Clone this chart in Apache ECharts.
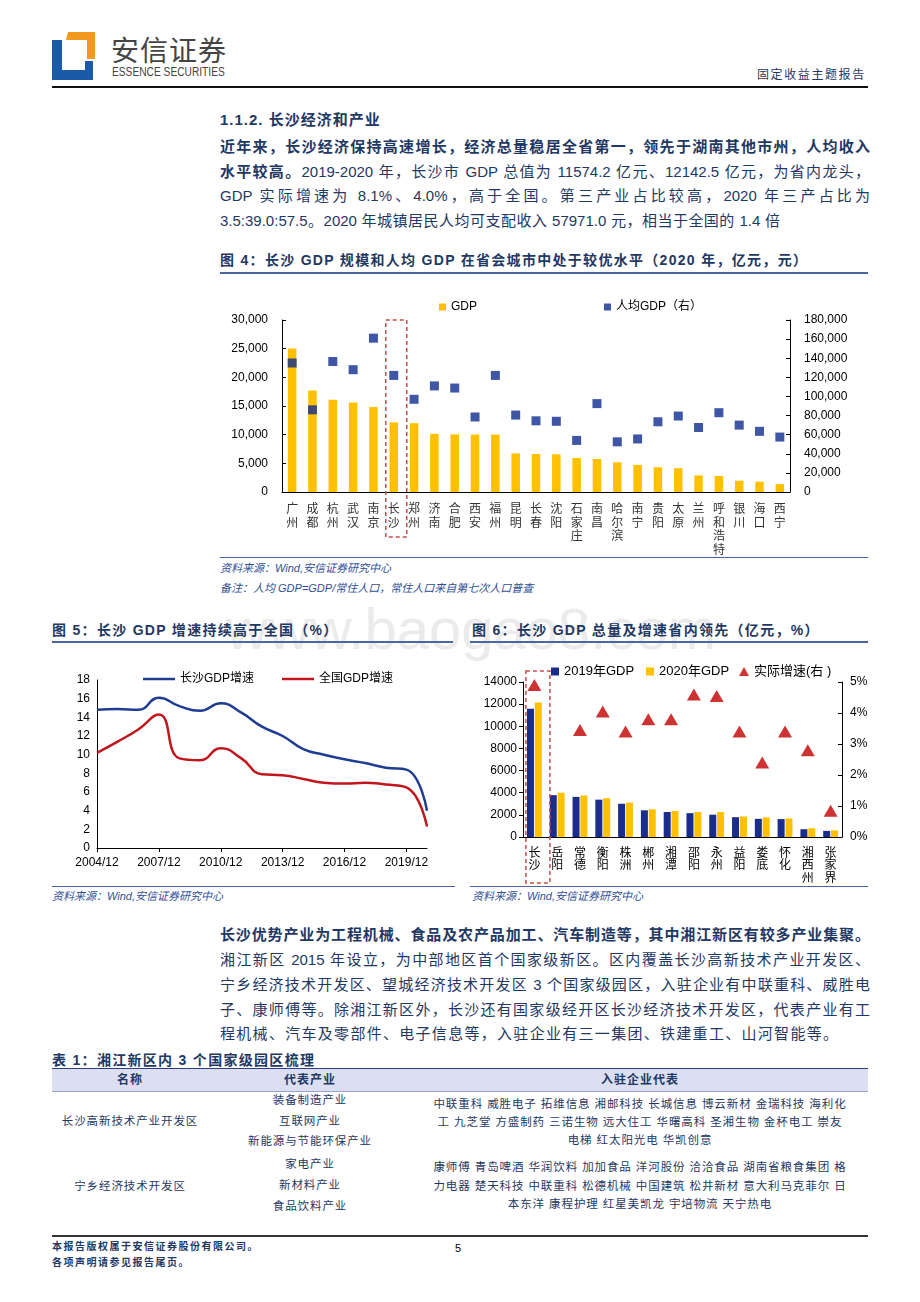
<!DOCTYPE html>
<html lang="zh-CN">
<head>
<meta charset="utf-8">
<title>长沙经济和产业</title>
<script src="https://cdn.jsdelivr.net/npm/echarts@6/dist/echarts.min.js"></script>
<style>
html,body{margin:0;padding:0;background:#fff;}
body{width:920px;height:1302px;position:relative;overflow:hidden;font-family:"Liberation Sans",Arial,"Noto Sans CJK SC",sans-serif;color:#1F3864;}
.abs{position:absolute;white-space:nowrap;z-index:1;}
.ln{position:absolute;left:220px;width:650px;height:20px;line-height:20px;font-size:15px;z-index:1;}
.j{text-align:justify;text-align-last:justify;}
.b{font-weight:bold;}
.rule{position:absolute;height:0;border-top:2px solid #4A66A3;z-index:1;}
.src{position:absolute;font-size:11px;font-style:italic;color:#2F4F95;white-space:nowrap;line-height:14px;z-index:1;}
.ttl{position:absolute;font-size:14px;font-weight:bold;white-space:nowrap;line-height:18px;z-index:1;letter-spacing:1.3px;}
.chart{position:absolute;z-index:2;}
.th{position:absolute;top:1069px;height:22px;line-height:22px;font-size:12px;font-weight:bold;text-align:center;z-index:2;letter-spacing:1px;}
.td{position:absolute;height:16px;line-height:16px;font-size:11.5px;text-align:center;white-space:nowrap;z-index:2;letter-spacing:0.9px;}
.wm{position:absolute;left:226px;top:600px;font-size:58px;line-height:58px;color:#ebebeb;white-space:nowrap;z-index:0;font-family:"Liberation Sans",Arial,sans-serif;}
</style>
</head>
<body>

<!-- header -->
<svg class="abs" style="left:52px;top:32px;" width="44" height="48" viewBox="0 0 44 48">
  <polygon points="16,0 43,0 43,27 35,27 35,8 14,8" fill="#F39A1E"/>
  <polygon points="0,8 10,8 10,38 33,38 33,29 41,29 41,48 0,48" fill="#1B5AA6"/>
</svg>
<div class="abs" style="left:111px;top:32px;font-size:28px;line-height:34px;color:#444;font-family:'Noto Sans CJK SC',sans-serif;letter-spacing:1px;">安信证券</div>
<div class="abs" style="left:112px;top:65px;font-size:12px;line-height:14px;color:#444;transform:scaleX(0.85);transform-origin:left center;">ESSENCE SECURITIES</div>
<div class="abs" style="left:757px;top:67px;font-size:12px;line-height:16px;color:#1F3864;letter-spacing:1.6px;">固定收益主题报告</div>
<div class="abs" style="left:52px;top:86px;width:816px;border-top:2px solid #111;"></div>

<div class="wm">www.baogao8.com</div>

<!-- section 1 -->
<div class="abs b" style="left:220px;top:111px;font-size:15px;line-height:18px;letter-spacing:1px;">1.1.2. 长沙经济和产业</div>
<div class="ln j b" style="top:137px;">近年来，长沙经济保持高速增长，经济总量稳居全省第一，领先于湖南其他市州，人均收入</div>
<div class="ln j" style="top:162px;"><b>水平较高。</b>2019-2020 年，长沙市 GDP 总值为 11574.2 亿元、12142.5 亿元，为省内龙头，</div>
<div class="ln j" style="top:186px;">GDP 实际增速为 8.1%、4.0%，高于全国。第三产业占比较高，2020 年三产占比为</div>
<div class="ln j" style="top:211px;width:560px;">3.5:39.0:57.5。2020 年城镇居民人均可支配收入 57971.0 元，相当于全国的 1.4 倍</div>

<!-- figure 4 -->
<div class="ttl" style="left:220px;top:251px;">图 4：长沙 GDP 规模和人均 GDP 在省会城市中处于较优水平（2020 年，亿元，元）</div>
<div class="rule" style="left:220px;top:272px;width:648px;"></div>
<div id="c4" class="chart" style="left:220px;top:290px;width:650px;height:266px;"></div>
<div class="rule" style="left:220px;top:557px;width:648px;border-top-width:1.5px;"></div>
<div class="src" style="left:220px;top:561px;">资料来源：Wind,安信证券研究中心</div>
<div class="src" style="left:220px;top:581px;">备注：人均 GDP=GDP/常住人口，常住人口来自第七次人口普查</div>

<!-- figure 5 -->
<div class="ttl" style="left:52px;top:621px;">图 5：长沙 GDP 增速持续高于全国（%）</div>
<div class="rule" style="left:52px;top:641px;width:401px;"></div>
<div id="c5" class="chart" style="left:52px;top:645px;width:410px;height:235px;"></div>
<div class="rule" style="left:52px;top:886px;width:403px;border-top-width:1.5px;"></div>
<div class="src" style="left:52px;top:889px;">资料来源：Wind,安信证券研究中心</div>

<!-- figure 6 -->
<div class="ttl" style="left:472px;top:621px;">图 6：长沙 GDP 总量及增速省内领先（亿元，%）</div>
<div class="rule" style="left:470px;top:641px;width:398px;"></div>
<div id="c6" class="chart" style="left:470px;top:645px;width:400px;height:242px;"></div>
<div class="rule" style="left:470px;top:886px;width:398px;border-top-width:1.5px;"></div>
<div class="src" style="left:472px;top:889px;">资料来源：Wind,安信证券研究中心</div>

<!-- section 2 -->
<div class="ln j b" style="top:925px;">长沙优势产业为工程机械、食品及农产品加工、汽车制造等，其中湘江新区有较多产业集聚。</div>
<div class="ln j" style="top:950px;">湘江新区 2015 年设立，为中部地区首个国家级新区。区内覆盖长沙高新技术产业开发区、</div>
<div class="ln j" style="top:975px;">宁乡经济技术开发区、望城经济技术开发区 3 个国家级园区，入驻企业有中联重科、威胜电</div>
<div class="ln j" style="top:1000px;">子、康师傅等。除湘江新区外，长沙还有国家级经开区长沙经济技术开发区，代表产业有工</div>
<div class="ln j" style="top:1024px;width:618px;">程机械、汽车及零部件、电子信息等，入驻企业有三一集团、铁建重工、山河智能等。</div>

<!-- table -->
<div class="ttl" style="left:52px;top:1051px;">表 1：湘江新区内 3 个国家级园区梳理</div>
<div class="abs" style="left:52px;top:1068px;width:816px;height:22px;background:#DCDFF1;border-top:1.5px solid #2A3F7C;border-bottom:1px solid #9AA5CF;z-index:1;"></div>
<div class="th" style="left:52px;width:156px;">名称</div>
<div class="th" style="left:210px;width:200px;">代表产业</div>
<div class="th" style="left:410px;width:460px;">入驻企业代表</div>

<div class="td" style="left:52px;width:156px;top:1113px;">长沙高新技术产业开发区</div>
<div class="td" style="left:210px;width:200px;top:1092px;">装备制造产业</div>
<div class="td" style="left:210px;width:200px;top:1113px;">互联网产业</div>
<div class="td" style="left:210px;width:200px;top:1133px;">新能源与节能环保产业</div>
<div class="td" style="left:410px;width:460px;top:1096px;">中联重科 威胜电子 拓维信息 湘邮科技 长城信息 博云新材 金瑞科技 海利化</div>
<div class="td" style="left:410px;width:460px;top:1114px;">工 九芝堂 方盛制药 三诺生物 远大住工 华曙高科 圣湘生物 金杯电工 崇友</div>
<div class="td" style="left:410px;width:460px;top:1132px;">电梯 红太阳光电 华凯创意</div>

<div class="td" style="left:52px;width:156px;top:1178px;">宁乡经济技术开发区</div>
<div class="td" style="left:210px;width:200px;top:1156px;">家电产业</div>
<div class="td" style="left:210px;width:200px;top:1177px;">新材料产业</div>
<div class="td" style="left:210px;width:200px;top:1198px;">食品饮料产业</div>
<div class="td" style="left:410px;width:460px;top:1159px;">康师傅 青岛啤酒 华润饮料 加加食品 洋河股份 洽洽食品 湖南省粮食集团 格</div>
<div class="td" style="left:410px;width:460px;top:1178px;">力电器 楚天科技 中联重科 松德机械 中国建筑 松井新材 意大利马克菲尔 日</div>
<div class="td" style="left:410px;width:460px;top:1196px;">本东洋 康程护理 红星美凯龙 宇培物流 天宁热电</div>

<!-- footer -->
<div class="abs" style="left:52px;top:1235px;width:816px;border-top:2px solid #333;"></div>
<div class="abs b" style="left:52px;top:1240px;font-size:10px;line-height:14px;letter-spacing:1.5px;">本报告版权属于安信证券股份有限公司。</div>
<div class="abs b" style="left:52px;top:1256px;font-size:10px;line-height:14px;letter-spacing:1.5px;">各项声明请参见报告尾页。</div>
<div class="abs" style="left:455px;top:1241px;font-size:11px;line-height:14px;color:#000;">5</div>

<script>
// ---------- Figure 4 data ----------
const cities = ['广州','成都','杭州','武汉','南京','长沙','郑州','济南','合肥','西安','福州','昆明','长春','沈阳','石家庄','南昌','哈尔滨','南宁','贵阳','太原','兰州','呼和浩特','银川','海口','西宁'];
const cityGDP = [25019,17717,16106,15616,14818,12143,12003,10141,10046,10020,10020,6734,6638,6572,5935,5746,5184,4726,4312,4153,2887,2800,1964,1791,1373];
const cityGDPPerCapita = [135000,86000,136600,128000,161000,122000,97000,111000,108800,78500,122000,80500,74500,74000,54000,92500,52500,55500,73500,79500,67500,83000,70000,63500,57500];

// ---------- Figure 5 data ----------
const years = ['2004/12','2005/12','2006/12','2007/12','2008/12','2009/12','2010/12','2011/12','2012/12','2013/12','2014/12','2015/12','2016/12','2017/12','2018/12','2019/12','2020/12'];
const csGrowth = [14.8,14.9,14.8,16.1,15.2,14.7,15.5,14.5,13.0,12.0,10.6,10.0,9.5,9.1,8.6,8.4,4.0];
const cnGrowth = [10.2,11.4,12.7,14.3,9.6,9.4,10.7,9.6,7.9,7.8,7.4,7.0,6.9,7.0,6.8,6.5,2.3];

// ---------- Figure 6 data ----------
const hnCities = ['长沙','岳阳','常德','衡阳','株洲','郴州','湘潭','邵阳','永州','益阳','娄底','怀化','湘西州','张家界'];
const gdp2019 = [11574,3780,3624,3372,3003,2410,2258,2152,2016,1792,1641,1617,702,552];
const gdp2020 = [12143,4002,3750,3509,3106,2503,2344,2251,2261,1853,1772,1673,790,600];
const growth2020 = [4.9,'-',3.45,4.05,3.4,3.8,3.8,4.6,4.55,3.4,2.4,3.4,2.8,0.85];

const FONT = '"Liberation Sans", Arial, "Noto Sans CJK SC", sans-serif';
const vert = v => v.split('').join('\n');
const thousands = v => Number(v).toLocaleString('en-US');
const plain = v => String(v);

// ---------- Figure 4 ----------
const c4 = echarts.init(document.getElementById('c4'));
c4.setOption({
  animation: false,
  textStyle: { fontFamily: FONT },
  legend: [
    { data: ['GDP'], left: 214, top: 6, icon: 'rect', itemWidth: 7, itemHeight: 7, textStyle: { fontSize: 12, color: '#000' } },
    { data: ['人均GDP（右）'], left: 379, top: 6, icon: 'rect', itemWidth: 7, itemHeight: 7, textStyle: { fontSize: 12, color: '#000' } }
  ],
  grid: { left: 62, top: 30, width: 508, height: 172, containLabel: false, outerBoundsMode: 'none' },
  xAxis: {
    type: 'category', data: cities,
    axisLine: { lineStyle: { color: '#000', width: 1 } },
    axisTick: { inside: true, length: 3, lineStyle: { color: '#000' } },
    axisLabel: { interval: 0, formatter: vert, fontSize: 12, lineHeight: 13.5, color: '#333', margin: 10, fontFamily: '"Noto Sans CJK SC", sans-serif', verticalAlign: 'top' }
  },
  yAxis: [
    { type: 'value', min: 0, max: 30000, interval: 5000, splitLine: { show: false },
      axisLine: { show: true, lineStyle: { color: '#000' } },
      axisTick: { show: true, inside: true, length: 4, lineStyle: { color: '#000' } },
      axisLabel: { formatter: thousands, fontSize: 12, color: '#000', margin: 14 } },
    { type: 'value', min: 0, max: 180000, interval: 20000, splitLine: { show: false },
      axisLine: { show: true, lineStyle: { color: '#000' } },
      axisTick: { show: true, inside: true, length: 4, lineStyle: { color: '#000' } },
      axisLabel: { formatter: thousands, fontSize: 12, color: '#000', margin: 14 } }
  ],
  series: [
    { name: 'GDP', type: 'bar', data: cityGDP, barWidth: 8.5, itemStyle: { color: '#FFC000' } },
    { name: '人均GDP（右）', type: 'scatter', yAxisIndex: 1, data: cityGDPPerCapita, symbol: 'rect', symbolSize: 9, itemStyle: { color: '#0E2C8E' }, z: 3 }
  ]
});
{
  const x = c4.convertToPixel({ xAxisIndex: 0 }, '长沙');
  c4.setOption({ graphic: [{ type: 'rect', shape: { x: x - 8, y: 30, width: 21, height: 217 },
    style: { fill: 'none', stroke: '#C0504D', lineWidth: 1.5, lineDash: [4, 3] }, z: 10 }] });
}

// ---------- Figure 5 ----------
const c5 = echarts.init(document.getElementById('c5'));
c5.setOption({
  animation: false,
  textStyle: { fontFamily: FONT },
  legend: [
    { data: ['长沙GDP增速'], left: 86, top: 23, icon: 'rect', itemWidth: 32, itemHeight: 2.5, textStyle: { fontSize: 12, color: '#000' } },
    { data: ['全国GDP增速'], left: 225, top: 23, icon: 'rect', itemWidth: 32, itemHeight: 2.5, textStyle: { fontSize: 12, color: '#000' } }
  ],
  grid: { left: 45, top: 35, width: 330, height: 168, containLabel: false, outerBoundsMode: 'none' },
  xAxis: {
    type: 'category', data: years, boundaryGap: false,
    axisLine: { lineStyle: { color: '#000' } },
    axisTick: { interval: 2, length: 4, lineStyle: { color: '#000' } },
    axisLabel: { interval: 2, fontSize: 12, color: '#000', margin: 9 }
  },
  yAxis: {
    type: 'value', min: 0, max: 18, interval: 2, splitLine: { show: false },
    axisLine: { show: true, lineStyle: { color: '#000' } },
    axisTick: { show: false },
    axisLabel: { fontSize: 12, color: '#000', margin: 7 }
  },
  series: [
    { name: '长沙GDP增速', type: 'line', data: csGrowth, smooth: true, symbol: 'none', lineStyle: { color: '#1F3C93', width: 2.5 }, itemStyle: { color: '#1F3C93' } },
    { name: '全国GDP增速', type: 'line', data: cnGrowth, smooth: true, symbol: 'none', lineStyle: { color: '#C0161D', width: 2.5 }, itemStyle: { color: '#C0161D' } }
  ]
});

// ---------- Figure 6 ----------
const c6 = echarts.init(document.getElementById('c6'));
c6.setOption({
  animation: false,
  textStyle: { fontFamily: FONT },
  legend: [
    { data: ['2019年GDP'], left: 76, top: 15, icon: 'rect', itemWidth: 8, itemHeight: 8, textStyle: { fontSize: 13, color: '#000' } },
    { data: ['2020年GDP'], left: 171, top: 15, icon: 'rect', itemWidth: 8, itemHeight: 8, textStyle: { fontSize: 13, color: '#000' } },
    { data: ['实际增速(右 )'], left: 264, top: 15, icon: 'triangle', itemWidth: 10, itemHeight: 9, textStyle: { fontSize: 13, color: '#000' } }
  ],
  grid: { left: 53, top: 37, width: 319, height: 155, containLabel: false, outerBoundsMode: 'none' },
  xAxis: {
    type: 'category', data: hnCities,
    axisLine: { lineStyle: { color: '#000' } },
    axisTick: { length: 3, lineStyle: { color: '#000' } },
    axisLabel: { interval: 0, formatter: vert, fontSize: 12, lineHeight: 12.5, color: '#000', margin: 9, fontFamily: '"Noto Sans CJK SC", sans-serif', verticalAlign: 'top' }
  },
  yAxis: [
    { type: 'value', min: 0, max: 14000, interval: 2000, splitLine: { show: false },
      axisLine: { show: true, lineStyle: { color: '#000' } },
      axisTick: { show: true, length: 4, lineStyle: { color: '#000' } },
      axisLabel: { formatter: plain, fontSize: 12, color: '#000', margin: 6 } },
    { type: 'value', min: 0, max: 5, interval: 1, splitLine: { show: false },
      axisLine: { show: true, lineStyle: { color: '#000' } },
      axisTick: { show: true, inside: true, length: 4, lineStyle: { color: '#000' } },
      axisLabel: { formatter: '{value}%', fontSize: 12, color: '#000', margin: 8 } }
  ],
  series: [
    { name: '2019年GDP', type: 'bar', data: gdp2019, barWidth: 7, barGap: '12%', itemStyle: { color: '#1A2C8C' } },
    { name: '2020年GDP', type: 'bar', data: gdp2020, barWidth: 7, itemStyle: { color: '#FFC000' } },
    { name: '实际增速(右 )', type: 'scatter', yAxisIndex: 1, data: growth2020, symbol: 'triangle', symbolSize: [14, 12], itemStyle: { color: '#C00000' }, z: 3 }
  ]
});
{
  const x = c6.convertToPixel({ xAxisIndex: 0 }, '长沙');
  c6.setOption({ graphic: [{ type: 'rect', shape: { x: x - 8.5, y: 26, width: 24, height: 212 },
    style: { fill: 'none', stroke: '#C0504D', lineWidth: 1.5, lineDash: [4, 3] }, z: 10 }] });
}
</script>
</body>
</html>
